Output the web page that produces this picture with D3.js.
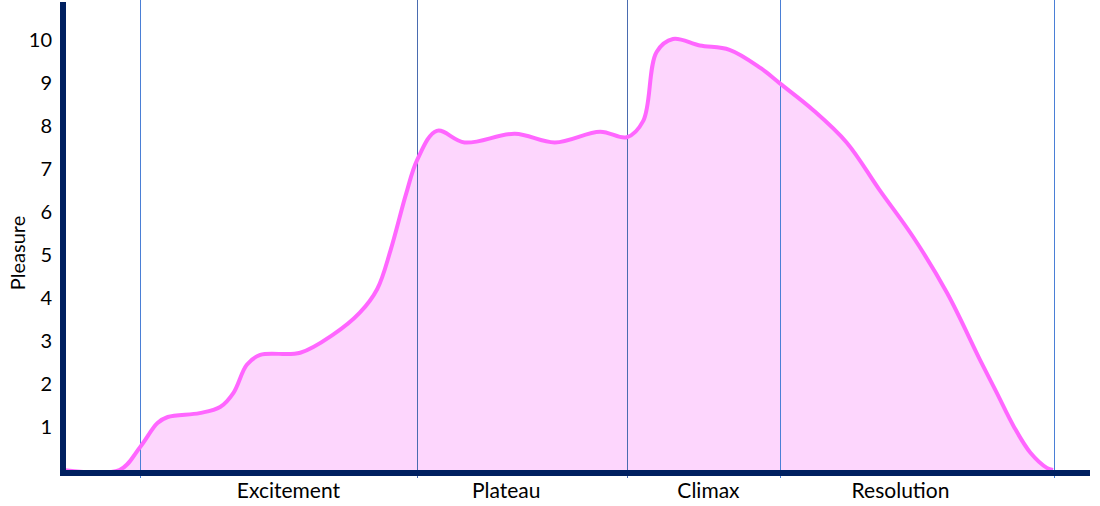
<!DOCTYPE html>
<html>
<head>
<meta charset="utf-8">
<script src="https://cdn.jsdelivr.net/npm/d3@7"></script>
<style>
  html, body { margin: 0; padding: 0; background: #fff; }
  svg { display: block; }
  text { font-family: Lato, "Open Sans", sans-serif; fill: #000; }
</style>
</head>
<body>
<svg id="chart" width="1100" height="506"></svg>
<script>
// ---- data ----
const time = [0, 5.5, 7.5, 9.2, 10.2, 13.3, 15.3, 16.6, 17.9, 19.2, 23.1, 26.3, 28.9, 30.6, 31.9, 33.4, 34.5, 36.4, 39.1, 44.0, 47.9, 52.3, 54.9, 56.5, 57.8, 59.4, 62.0, 64.9, 67.9, 69.8, 73.0, 76.3, 79.5, 82.8, 86.1, 89.3, 90.9, 92.6, 94.2, 95.8, 96.4];
const pleasure = [0, 0, 0.53, 1.09, 1.23, 1.32, 1.46, 1.79, 2.44, 2.67, 2.72, 3.14, 3.65, 4.2, 5.1, 6.4, 7.2, 7.87, 7.6, 7.8, 7.6, 7.85, 7.72, 8.1, 9.7, 10.0, 9.85, 9.75, 9.33, 8.97, 8.36, 7.6, 6.5, 5.4, 4.1, 2.55, 1.8, 1.0, 0.4, 0.05, 0];
const phaseBounds = [7.5, 34.5, 54.9, 69.8, 96.5];
const phaseNames = ["Excitement", "Plateau", "Climax", "Resolution"];
const phaseLabelPos = [21.9, 43.1, 62.8, 81.5];
const yTicks = [1, 2, 3, 4, 5, 6, 7, 8, 9, 10];

// ---- layout ----
const svg = d3.select("#chart");
const x = d3.scaleLinear().domain([0, 100]).range([63, 1090]);
const y = d3.scaleLinear().domain([0, 10]).range([470, 39]);
const pts = time.map((t, i) => ({t, v: pleasure[i]}));

// area
svg.append("path")
  .datum(pts)
  .attr("fill", "#fdd6fd")
  .attr("d", d3.area().x(d => x(d.t)).y0(y(0)).y1(d => y(d.v)).curve(d3.curveCatmullRom.alpha(0.5)));

// phase lines
svg.append("g").selectAll("line").data(phaseBounds).join("line")
  .attr("x1", d => Math.round(x(d)) + 0.5).attr("x2", d => Math.round(x(d)) + 0.5)
  .attr("y1", 0).attr("y2", 478)
  .attr("stroke", (d, i) => (i === 1 || i === 2) ? "#4a6cb0" : "#4a7fd6")
  .attr("stroke-width", 1);

// line
svg.append("path")
  .datum(pts)
  .attr("fill", "none")
  .attr("stroke", "#ff66ff")
  .attr("stroke-width", 4)
  .attr("stroke-linejoin", "round")
  .attr("d", d3.line().x(d => x(d.t)).y(d => y(d.v)).curve(d3.curveCatmullRom.alpha(0.5)));

// y axis ticks labels
const yAxis = d3.axisLeft(y).tickValues(yTicks).tickSize(0).tickPadding(0).tickFormat(d3.format("d"));
const gy = svg.append("g").attr("transform", "translate(52,0)").call(yAxis);
gy.select(".domain").remove();
gy.selectAll("text").style("font-size", "20px").style("font-family", "Lato, sans-serif").attr("fill", "#000").attr("dy", "0.35em");

// x axis labels
const xAxis = d3.axisBottom(x).tickValues(phaseLabelPos).tickSize(0).tickPadding(0).tickFormat((d, i) => phaseNames[i]);
const gx = svg.append("g").attr("transform", "translate(0,483)").call(xAxis);
gx.select(".domain").remove();
gx.selectAll("text").style("font-size", "21px").style("font-family", "Lato, sans-serif").attr("fill", "#000");

// axis lines
svg.append("line").attr("x1", 63).attr("x2", 63).attr("y1", 2).attr("y2", 476)
  .attr("stroke", "#002060").attr("stroke-width", 6);
svg.append("line").attr("x1", 60).attr("x2", 1090).attr("y1", 473).attr("y2", 473)
  .attr("stroke", "#002060").attr("stroke-width", 6);

// y title
svg.append("text")
  .attr("transform", "translate(25,253) rotate(-90)")
  .attr("text-anchor", "middle")
  .style("font-size", "20px")
  .text("Pleasure");
</script>
</body>
</html>
